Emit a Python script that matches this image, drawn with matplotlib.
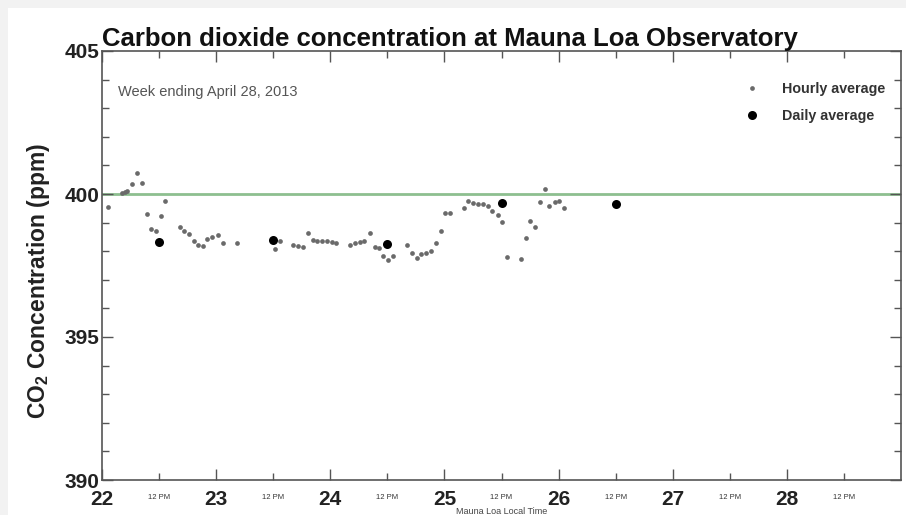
import numpy as np
import matplotlib.pyplot as plt
from matplotlib.patches import Rectangle

# hourly averages (day of April 2013, ppm)
hourly_day = [22.055, 22.175, 22.198, 22.221, 22.265, 22.306, 22.349, 22.390, 22.431,
              22.469, 22.513, 22.556, 22.679, 22.722, 22.762, 22.803, 22.845, 22.885,
              22.923, 22.967, 23.013, 23.057, 23.179, 23.517, 23.563, 23.671, 23.714,
              23.758, 23.802, 23.845, 23.884, 23.924, 23.968, 24.011, 24.050, 24.175,
              24.218, 24.256, 24.297, 24.349, 24.390, 24.428, 24.466, 24.504, 24.550,
              24.675, 24.719, 24.757, 24.797, 24.838, 24.879, 24.926, 24.967, 25.002,
              25.045, 25.170, 25.208, 25.251, 25.295, 25.339, 25.383, 25.421, 25.465,
              25.505, 25.552, 25.671, 25.712, 25.753, 25.797, 25.837, 25.878, 25.919,
              25.965, 26.003, 26.046]
hourly_ppm = [399.56, 400.02, 400.07, 400.10, 400.35, 400.74, 400.37, 399.30, 398.76,
              398.72, 399.22, 399.77, 398.86, 398.69, 398.60, 398.35, 398.23, 398.18,
              398.43, 398.50, 398.57, 398.27, 398.27, 398.07, 398.36, 398.23, 398.19,
              398.14, 398.62, 398.39, 398.35, 398.35, 398.34, 398.32, 398.28, 398.21,
              398.27, 398.33, 398.37, 398.64, 398.16, 398.12, 397.84, 397.69, 397.82,
              398.22, 397.92, 397.77, 397.89, 397.95, 398.00, 398.27, 398.71, 399.33,
              399.33, 399.50, 399.76, 399.69, 399.66, 399.64, 399.58, 399.41, 399.27,
              399.02, 397.79, 397.72, 398.46, 399.05, 398.85, 399.72, 400.18, 399.59,
              399.73, 399.77, 399.50]

# daily averages
daily_day = [22.5, 23.5, 24.5, 25.5, 26.5]
daily_ppm = [398.33, 398.40, 398.26, 399.69, 399.65]

day_ticks = [22, 23, 24, 25, 26, 27, 28]
noon_ticks = [22.5, 23.5, 24.5, 25.5, 26.5, 27.5, 28.5]

plt.rcParams['font.family'] = ['Liberation Sans', 'DejaVu Sans']

fig = plt.figure(figsize=(9.06, 5.15), dpi=100)
fig.patch.set_facecolor('#f2f2f2')
fig.patches.append(Rectangle((8 / 906, 0), 1, 1 - 8 / 515, transform=fig.transFigure,
                             facecolor='white', edgecolor='none', zorder=-5))

ax = fig.add_axes([102 / 906, 35 / 515, 799 / 906, 429 / 515])
ax.set_zorder(2)
ax.set_xlim(22, 29)
ax.set_ylim(390, 405)

ax.axhline(400, color='#8dbf8f', lw=2, zorder=1)
ax.plot(hourly_day, hourly_ppm, 'o', color='#6a6a6a', ms=3.4, mew=0, label='Hourly average', zorder=2)
ax.plot(daily_day, daily_ppm, 'o', color='black', ms=6.5, mew=0, label='Daily average', zorder=3)

ax.set_yticks([390, 395, 400, 405])
ax.set_yticks(np.arange(390, 406, 1), minor=True)
ax.set_xticks(day_ticks)
ax.set_xticks(noon_ticks, minor=True)
ax.set_xticklabels([str(d) for d in day_ticks], fontsize=15, fontweight='bold', color='#222222')
ax.set_xticklabels(['12 PM'] * len(noon_ticks), minor=True, fontsize=5.5, color='#333333')
ax.set_yticklabels(['390', '395', '400', '405'], fontsize=15, fontweight='bold', color='#222222')
ax.tick_params(which='both', direction='in', top=True, right=True, color='#555555', width=1)
ax.tick_params(which='major', length=8)
ax.tick_params(which='minor', length=5)
ax.tick_params(axis='y', which='major', pad=2)
ax.tick_params(axis='x', which='major', pad=7)
ax.tick_params(axis='x', which='minor', pad=10)
for s in ax.spines.values():
    s.set_color('#555555')
    s.set_linewidth(1.2)

ax.set_xlabel('Mauna Loa Local Time', fontsize=6.5, color='#444444', labelpad=-1)
ax.set_ylabel('CO$_\\mathregular{2}$ Concentration (ppm)', fontsize=16.5, fontweight='bold',
              color='#222222')
ax.yaxis.set_label_coords(-0.062, 0.465)
ax.set_title('Carbon dioxide concentration at Mauna Loa Observatory', fontsize=18.5,
             fontweight='bold', loc='left', pad=2, color='#111111')

ax.text(0.02, 0.895, 'Week ending April 28, 2013', transform=ax.transAxes, fontsize=10.5,
        color='#555555')
leg = ax.legend(loc='upper right', frameon=False, prop={'size': 10.3, 'weight': 'bold'},
                handletextpad=1.1, borderaxespad=0, labelspacing=0.85,
                bbox_to_anchor=(0.9875, 0.94))
for t in leg.get_texts():
    t.set_color('#333333')

fig.savefig('out.png', dpi=100, facecolor=fig.get_facecolor())
